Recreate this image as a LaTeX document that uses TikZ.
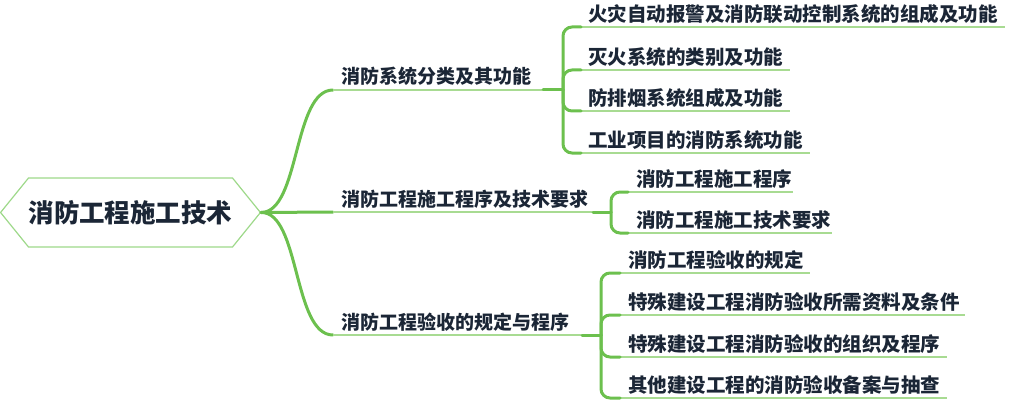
\documentclass[tikz,border=0pt]{standalone}
\usepackage{fontspec}
\setmainfont{Noto Sans CJK SC}
\usetikzlibrary{shapes.symbols}
\definecolor{edgec}{HTML}{6CC04E}
\definecolor{ulinec}{HTML}{A8DB92}
\definecolor{txtc}{HTML}{1B2636}
\definecolor{hexc}{HTML}{9ED98A}
\begin{document}
\begin{tikzpicture}[x=1pt,y=-1pt,
  mainedge/.style={draw=edgec, line width=3pt, line cap=round},
  underl/.style={draw=ulinec, line width=1.8pt},
  bracketedge/.style={mainedge, rounded corners=9pt},
  itemtext/.style={anchor=west, inner sep=0pt, text=txtc, font=\bfseries\fontsize{19.5}{20}\selectfont},
  lbltext/.style={anchor=west, inner sep=0pt, text=txtc, font=\bfseries\fontsize{19}{20}\selectfont},
  roottext/.style={signal, signal to=east and west, signal pointer angle=102,
    draw=hexc, line width=1.2pt, fill=white, minimum width=259pt, minimum height=69pt,
    inner sep=0pt, text=txtc, font=\bfseries\fontsize{25.5}{26}\selectfont}]
\useasboundingbox (0,0) rectangle (1029,404);

% root
\node[roottext] (root) at (130.5,212.5) {消防工程施工技术};

% branch coordinates
\coordinate (b1s) at (333,90);  \coordinate (b1t) at (543,90);  \coordinate (b1j) at (563,90);
\coordinate (b2s) at (333,212); \coordinate (b2t) at (593,212); \coordinate (b2j) at (611,212);
\coordinate (b3s) at (333,335); \coordinate (b3t) at (582,335); \coordinate (b3j) at (601,335);

% root connectors
\draw[mainedge] (root.east) .. controls (300,212) and (293,90) .. (b1s);
\draw[mainedge] (root.east) -- (b2s);
\draw[mainedge] (root.east) .. controls (300,212) and (293,335) .. (b3s);

% branch labels
\node[lbltext] (b1) at (341,76) {消防系统分类及其功能};
\node[lbltext] (b2) at (341,199.5) {消防工程施工程序及技术要求};
\node[lbltext] (b3) at (341,322) {消防工程验收的规定与程序};
\draw[underl] (b1s) -- (b1t); \draw[mainedge] (b1t) -- (b1j);
\draw[underl] (b2s) -- (b2t); \draw[mainedge] (b2t) -- (b2j);
\draw[underl] (b3s) -- (b3t); \draw[mainedge] (b3t) -- (b3j);

% group 1 children
\coordinate (c11s) at (581,27);  \coordinate (c11e) at (1005,27);
\coordinate (c12s) at (581,70);  \coordinate (c12e) at (790,70);
\coordinate (c13s) at (581,111); \coordinate (c13e) at (790,111);
\coordinate (c14s) at (581,153); \coordinate (c14e) at (810,153);
\foreach \c in {c11,c12,c13,c14}{
  \draw[underl] (\c s) -- (\c e);
  \draw[bracketedge] (b1j) |- (\c s);
}
\node[itemtext] (c11) at (588,14) {火灾自动报警及消防联动控制系统的组成及功能};
\node[itemtext] (c12) at (588,57) {灭火系统的类别及功能};
\node[itemtext] (c13) at (588,98) {防排烟系统组成及功能};
\node[itemtext] (c14) at (588,140) {工业项目的消防系统功能};

% group 2 children
\coordinate (c21s) at (628,192); \coordinate (c21e) at (793,192);
\coordinate (c22s) at (628,233); \coordinate (c22e) at (832,233);
\foreach \c in {c21,c22}{
  \draw[underl] (\c s) -- (\c e);
  \draw[bracketedge] (b2j) |- (\c s);
}
\node[itemtext] (c21) at (636,179) {消防工程施工程序};
\node[itemtext] (c22) at (636,220) {消防工程施工技术要求};

% group 3 children
\coordinate (c31s) at (620,273); \coordinate (c31e) at (810,273);
\coordinate (c32s) at (620,315); \coordinate (c32e) at (965,315);
\coordinate (c33s) at (620,357); \coordinate (c33e) at (947,357);
\coordinate (c34s) at (620,398); \coordinate (c34e) at (947,398);
\foreach \c in {c31,c32,c33,c34}{
  \draw[underl] (\c s) -- (\c e);
  \draw[bracketedge] (b3j) |- (\c s);
}
\node[itemtext] (c31) at (628,260) {消防工程验收的规定};
\node[itemtext] (c32) at (628,302) {特殊建设工程消防验收所需资料及条件};
\node[itemtext] (c33) at (628,344) {特殊建设工程消防验收的组织及程序};
\node[itemtext] (c34) at (628,385) {其他建设工程的消防验收备案与抽查};
\end{tikzpicture}
\end{document}
